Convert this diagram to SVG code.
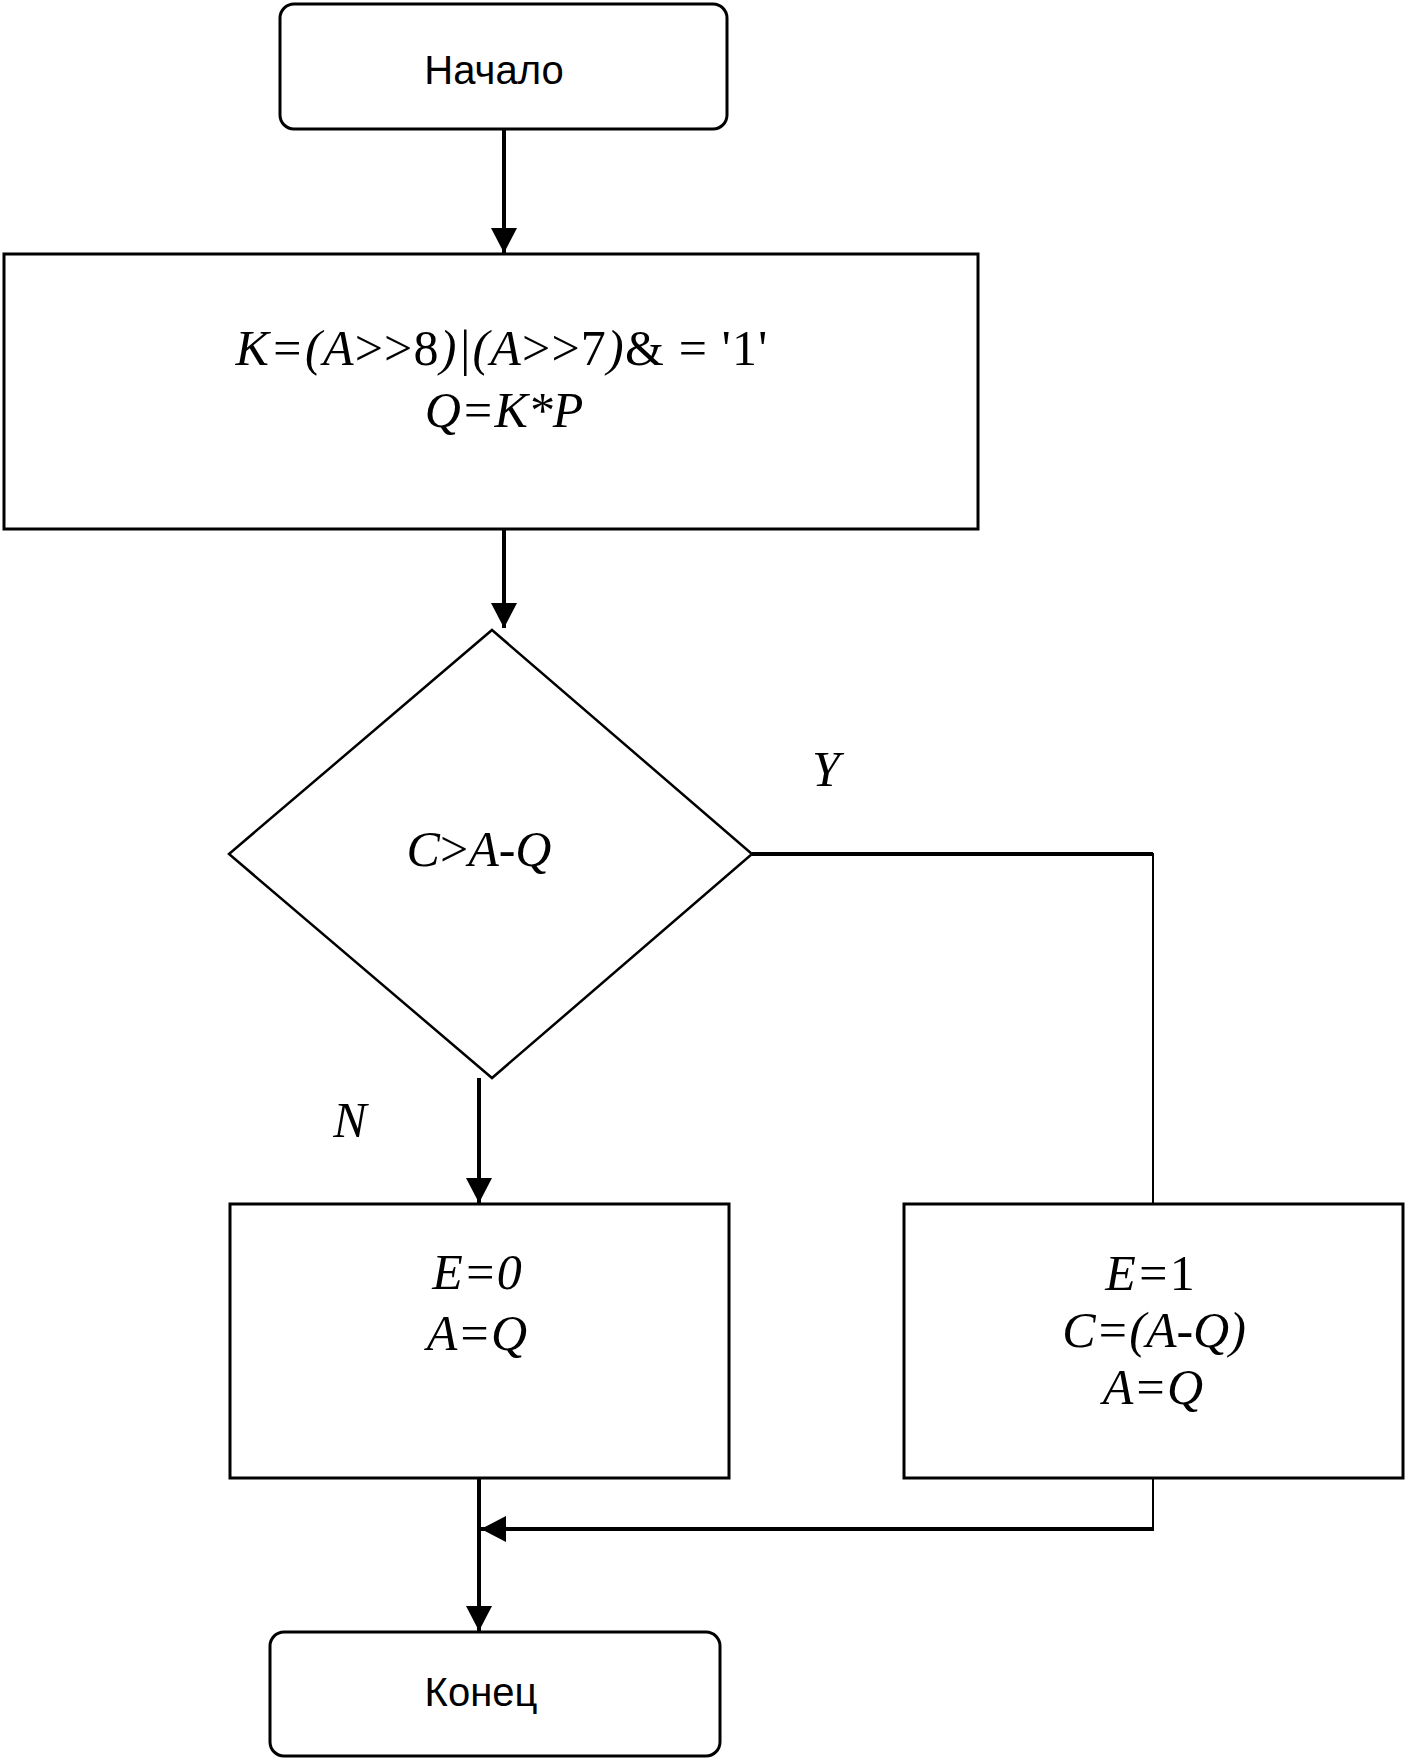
<svg xmlns="http://www.w3.org/2000/svg" width="1408" height="1763" viewBox="0 0 1408 1763">
<style>
.box{fill:#fff;stroke:#000;stroke-width:3}
.dia{fill:#fff;stroke:#000;stroke-width:2.5}
.thin{stroke:#000;stroke-width:2;fill:none}
.thick{stroke:#000;stroke-width:4;fill:none}
.m{font-family:"Liberation Serif","Times New Roman",serif;font-style:italic;font-size:50px;text-anchor:middle;fill:#000}
.u{font-style:normal}
.s{font-family:"Liberation Sans",Arial,sans-serif;font-size:40px;text-anchor:middle;fill:#000}
</style>
<defs>
<marker id="ah" markerUnits="userSpaceOnUse" markerWidth="26" markerHeight="26" refX="25" refY="13" orient="auto" viewBox="0 0 26 26">
<path d="M0,0 L25,13 L0,26 z" fill="#000"/>
</marker>
</defs>
<rect width="1408" height="1763" fill="#fff"/>
<g id="connectors">
<line class="thick" x1="504" y1="129" x2="504" y2="253" marker-end="url(#ah)"/>
<line class="thick" x1="504" y1="529" x2="504" y2="628" marker-end="url(#ah)"/>
<line class="thick" x1="752" y1="854" x2="1153" y2="854"/>
<line class="thin" x1="1153" y1="853" x2="1153" y2="1204"/>
<line class="thick" x1="479" y1="1078" x2="479" y2="1203" marker-end="url(#ah)"/>
<line class="thick" x1="479" y1="1478" x2="479" y2="1631" marker-end="url(#ah)"/>
<line class="thin" x1="1153" y1="1479" x2="1153" y2="1531"/>
<line class="thick" x1="1154" y1="1529" x2="481" y2="1529" marker-end="url(#ah)"/>
</g>
<g id="start">
<rect class="box" x="280" y="4" width="447" height="125" rx="14"/>
<text class="s" x="494" y="84">Начало</text>
</g>
<g id="process">
<rect class="box" x="4" y="254" width="974" height="275"/>
<text class="m" x="502" y="365" letter-spacing="1.2">K=(A<tspan class="u">&gt;&gt;8</tspan>)|(A<tspan class="u">&gt;&gt;7</tspan>)<tspan class="u">&amp; = '1'</tspan></text>
<text class="m" x="504" y="427">Q=K*P</text>
</g>
<g id="decision">
<polygon class="dia" points="492,630 752,854 492,1078 229,854"/>
<text class="m" x="479" y="866">C<tspan class="u">&gt;</tspan>A-Q</text>
</g>
<g id="label-y">
<text class="m" x="826" y="786">Y</text>
</g>
<g id="label-n">
<text class="m" x="350" y="1137">N</text>
</g>
<g id="left-box">
<rect class="box" x="230" y="1204" width="499" height="274"/>
<text class="m" x="477" y="1289">E=0</text>
<text class="m" x="477" y="1350">A=Q</text>
</g>
<g id="right-box">
<rect class="box" x="904" y="1204" width="499" height="274"/>
<text class="m" x="1150" y="1290">E=<tspan class="u">1</tspan></text>
<text class="m" x="1154" y="1347">C=(A-Q)</text>
<text class="m" x="1153" y="1404">A=Q</text>
</g>
<g id="end">
<rect class="box" x="270" y="1632" width="450" height="124" rx="14"/>
<text class="s" x="481" y="1706">Конец</text>
</g>
</svg>
